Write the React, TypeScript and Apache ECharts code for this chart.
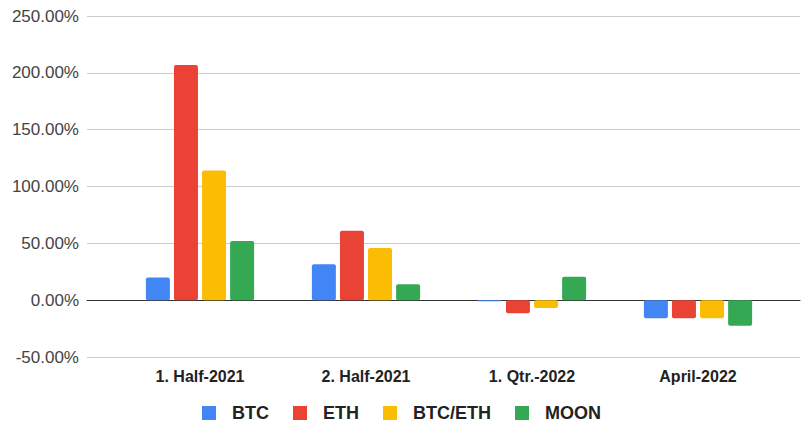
import React, { useEffect, useRef } from "react";
import * as echarts from "echarts";

const categories = ["1. Half-2021", "2. Half-2021", "1. Qtr.-2022", "April-2022"];
const btc = [20, 31.5, -1, -16];
const eth = [207, 61, -11.5, -16];
const btcEth = [114, 46, -7, -16];
const moon = [52, 14, 20.5, -22.5];
const seriesNames = ["BTC", "ETH", "BTC/ETH", "MOON"];
const colors = ["#4285F4", "#EA4335", "#FBBC04", "#34A853"];

export default function App() {
  const ref = useRef<HTMLDivElement>(null);
  useEffect(() => {
    document.body.style.margin = "0";
    const chart = echarts.init(ref.current!, null, { renderer: "svg" });
    const font = "'Liberation Sans', Arial, sans-serif";
    const data = [btc, eth, btcEth, moon];
    chart.setOption({
      animation: false,
      textStyle: { fontFamily: font },
      grid: [
        { left: 117, right: 22, top: 16, bottom: 65 },
        { left: 87, right: 3, top: 16, bottom: 65 },
      ],
      legend: {
        top: 404,
        left: "center",
        padding: 0,
        itemWidth: 14,
        itemHeight: 14,
        itemGap: 24,
        icon: "rect",
        data: seriesNames,
        textStyle: {
          fontFamily: font,
          fontSize: 18,
          lineHeight: 16,
          fontWeight: "bold",
          color: "#222",
          padding: [0, 0, 0, 11],
        },
      },
      xAxis: [
        {
          type: "category",
          gridIndex: 0,
          data: categories,
          axisLine: { show: false, onZero: false },
          axisTick: { show: false },
          axisLabel: { fontFamily: font, fontSize: 16, fontWeight: "bold", color: "#222", margin: 11 },
        },
        {
          type: "value",
          gridIndex: 1,
          min: 0,
          max: 1,
          axisLine: { show: true, onZero: true, lineStyle: { color: "#333", width: 1 } },
          axisTick: { show: false },
          axisLabel: { show: false },
          splitLine: { show: false },
        },
      ],
      yAxis: [
        {
          type: "value",
          gridIndex: 0,
          min: -50,
          max: 250,
          interval: 50,
          axisLabel: { show: false },
          axisLine: { show: false },
          axisTick: { show: false },
          splitLine: { show: false },
        },
        {
          type: "value",
          gridIndex: 1,
          min: -50,
          max: 250,
          interval: 50,
          axisLine: { show: false },
          axisTick: { show: false },
          axisLabel: {
            fontFamily: font,
            fontSize: 17,
            color: "#444",
            margin: 8,
            formatter: (v: number) => v.toFixed(2) + "%",
          },
          splitLine: { show: true, lineStyle: { color: "#ccc" } },
        },
      ],
      series: seriesNames.map((name, i) => ({
        name,
        type: "bar",
        xAxisIndex: 0,
        yAxisIndex: 0,
        data: data[i],
        barWidth: 24,
        barGap: "17%",
        itemStyle: { color: colors[i], borderRadius: 2 },
      })),
    });
    return () => chart.dispose();
  }, []);
  return <div ref={ref} style={{ width: 803, height: 422 }} />;
}
